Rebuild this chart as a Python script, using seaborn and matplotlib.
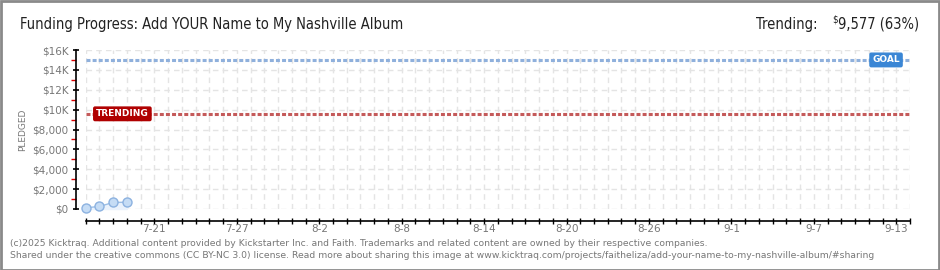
import matplotlib
matplotlib.use("Agg")
import matplotlib.pyplot as plt
import matplotlib.dates as mdates
from matplotlib.patches import Rectangle
from matplotlib.ticker import FixedLocator
import seaborn as sns
import pandas as pd
import numpy as np

# ---- data ----
dates = ["2025-07-16", "2025-07-17", "2025-07-18", "2025-07-19"]
pledged = [120, 260, 660, 680]
goal = 15000
trending = 9577
trending_pct = 63
x_start = "2025-07-16"
x_end = "2025-09-14"
tick_label_dates = ["2025-07-21", "2025-07-27", "2025-08-02", "2025-08-08", "2025-08-14",
                    "2025-08-20", "2025-08-26", "2025-09-01", "2025-09-07", "2025-09-13"]
y_major = [0, 2000, 4000, 6000, 8000, 10000, 12000, 14000, 16000]
y_minor = [1000, 3000, 5000, 7000, 9000, 11000, 13000, 15000]
y_labels = ["$0", "$2,000", "$4,000", "$6,000", "$8,000", "$10K", "$12K", "$14K", "$16K"]

title = "Funding Progress: Add YOUR Name to My Nashville Album"
footer1 = ("(c)2025 Kicktraq. Additional content provided by Kickstarter Inc. and Faith. "
           "Trademarks and related content are owned by their respective companies.")
footer2 = ("Shared under the creative commons (CC BY-NC 3.0) license. Read more about sharing this "
           "image at www.kicktraq.com/projects/faitheliza/add-your-name-to-my-nashville-album/#sharing")

df = pd.DataFrame({"date": pd.to_datetime(dates), "pledged": pledged})

sns.set_theme(style="white")
plt.rcParams["font.family"] = ["DejaVu Sans"]

W, H = 940, 270
fig = plt.figure(figsize=(W / 100, H / 100), dpi=100)
fig.patch.set_facecolor("white")

ax = fig.add_axes([85.7 / W, 1 - 209 / H, (910 - 85.7) / W, (209 - 50) / H])
ax.set_facecolor("white")

x0 = mdates.date2num(pd.Timestamp(x_start))
x1 = mdates.date2num(pd.Timestamp(x_end))
day_ticks = np.arange(x0, x1 + 0.5, 1)

ax.grid(True, which="major", color="#e4e4e4", linestyle=(0, (4, 3)), linewidth=1)
ax.set_axisbelow(True)

# goal and trending lines
ax.axhline(goal, color="#8fb0dc", linewidth=2.2, linestyle=(0, (1.3, 0.7)), zorder=2)
ax.axhline(trending, color="#c45a5a", linewidth=2.2, linestyle=(0, (1.3, 0.7)), zorder=2)

# data
xnum = mdates.date2num(df["date"])
ax.fill_between(xnum, df["pledged"], 0, color="#eaf2fc", zorder=2, clip_on=False)
sns.lineplot(data=df, x="date", y="pledged", ax=ax, color="#9dbfe6", linewidth=1,
             marker="o", markersize=6.5, markerfacecolor="#c5dcf5", markeredgecolor="#8cb2e0",
             markeredgewidth=1, zorder=4, clip_on=False)

ax.set_xlim(x0, x1)
ax.set_ylim(0, 16000)
ax.set_xticks(day_ticks)
ax.set_xticklabels(["" for _ in day_ticks])
ax.yaxis.set_major_locator(FixedLocator(y_major))
ax.yaxis.set_minor_locator(FixedLocator(y_minor))
ax.set_yticklabels(y_labels)

tick_nums = [mdates.date2num(pd.Timestamp(d)) for d in tick_label_dates]
for t, d in zip(tick_nums, tick_label_dates):
    ts = pd.Timestamp(d)
    ax.text(t, -0.125, f"{ts.month}-{ts.day}", transform=ax.get_xaxis_transform(),
            ha="center", va="center", fontsize=7.5, color="#777777")

ax.tick_params(axis="x", which="major", bottom=True, direction="inout", length=4.2, width=1,
               color="black")
ax.tick_params(axis="y", which="major", left=True, direction="inout", length=4.2, width=1.2,
               color="black", labelsize=7.5, labelcolor="#777777", pad=3)
ax.tick_params(axis="y", which="minor", left=True, direction="out", length=3.5, width=1,
               color="#e00000")
ax.set_xlabel("")
ax.set_ylabel("PLEDGED", fontsize=6.5, color="#777777", labelpad=4)

for s in ["top", "right"]:
    ax.spines[s].set_visible(False)
ax.spines["left"].set_position(("outward", 7.2))
ax.spines["bottom"].set_position(("outward", 8.5))
for s in ["left", "bottom"]:
    ax.spines[s].set_color("black")
    ax.spines[s].set_linewidth(1.2)
ax.spines["left"].set_bounds(0, 16000)

# labels on lines
ax.text(x1 - 2.75, goal, "GOAL", color="white", fontsize=6.5, ha="left", va="center",
        fontweight="bold", zorder=6,
        bbox=dict(boxstyle="round,pad=0.25,rounding_size=0.15", fc="#3a86d5", ec="#3a86d5"))
ax.text(x0 + 0.75, trending, "TRENDING", color="white", fontsize=6.5, ha="left", va="center",
        fontweight="bold", zorder=6,
        bbox=dict(boxstyle="round,pad=0.25,rounding_size=0.15", fc="#b00000", ec="#b00000"))

# header
hdr = dict(family=["DejaVu Sans"], fontstretch="condensed", color="#222222", va="center")
fig.text(20 / W, 1 - 24 / H, title, fontsize=10.5, ha="left", **hdr)
fig.text(818 / W, 1 - 24 / H, "Trending:", fontsize=10.5, ha="right", **hdr)
fig.text(832 / W, 1 - 20 / H, "$", fontsize=7, ha="left", **hdr)
fig.text(838 / W, 1 - 24 / H, f"{trending:,} ({trending_pct}%)", fontsize=10.5, ha="left", **hdr)

# footer
fig.text(10 / W, 1 - 243 / H, footer1, fontsize=6.7, color="#777777", ha="left", va="center")
fig.text(10 / W, 1 - 256 / H, footer2, fontsize=6.7, color="#777777", ha="left", va="center")

# border
fig.patches.append(Rectangle((0.5 / W, 0.5 / H), 1 - 1.5 / W, 1 - 1.5 / H,
                             transform=fig.transFigure, fill=False, ec="#8a8a8a", lw=2))

fig.savefig("out.png", dpi=100)
